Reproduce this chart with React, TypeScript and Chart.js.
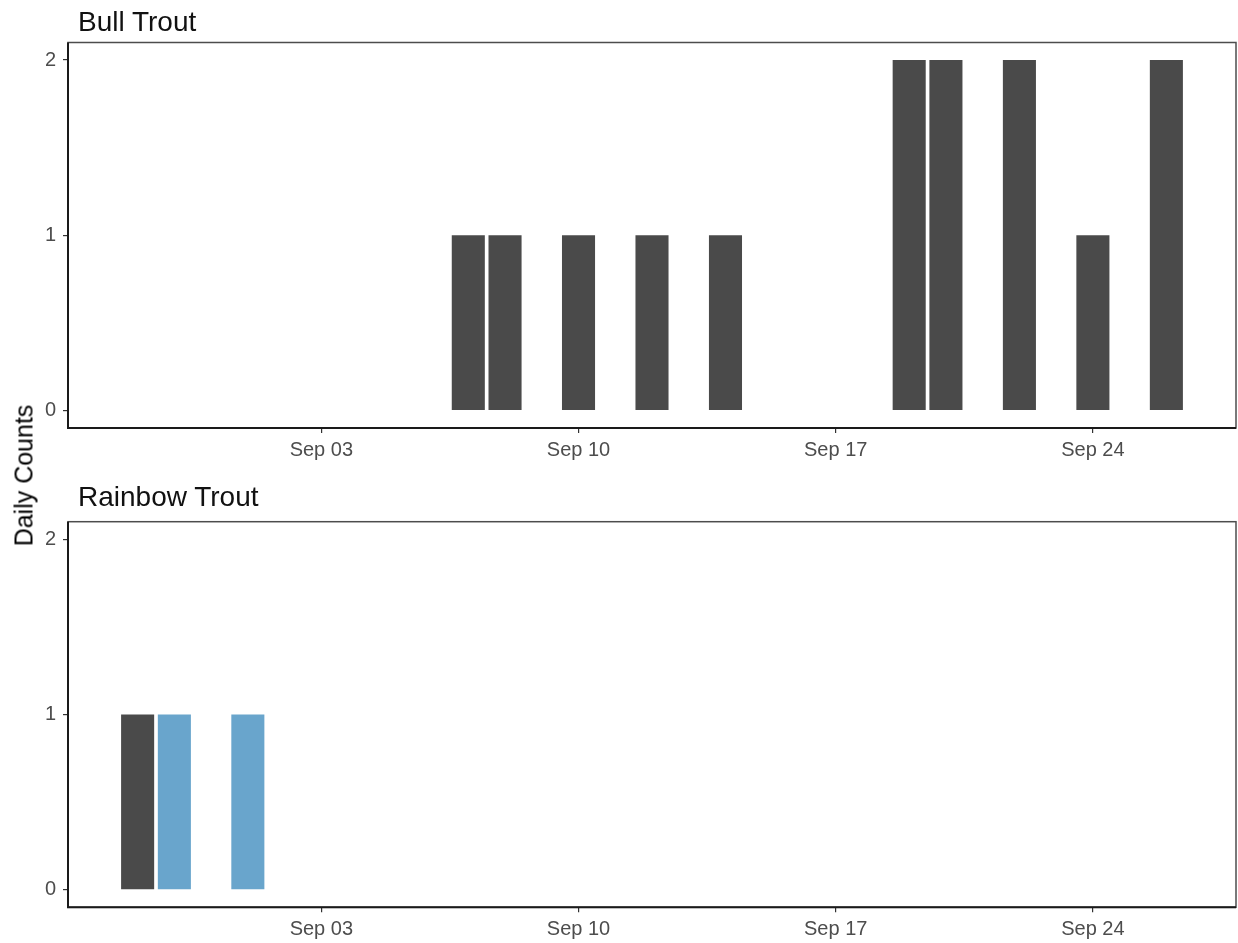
import React, { useEffect, useRef } from "react";
import { Chart, registerables } from "chart.js";

Chart.register(...registerables);

// ---- data ----
const bullDates = ["09-07", "09-08", "09-10", "09-12", "09-14", "09-19", "09-20", "09-22", "09-24", "09-26"];
const bullCounts = [1, 1, 1, 1, 1, 2, 2, 2, 1, 2];
const rainbowDarkDates = ["08-29"];
const rainbowDarkCounts = [1];
const rainbowBlueDates = ["08-30", "09-01"];
const rainbowBlueCounts = [1, 1];
const tickDates = ["09-03", "09-10", "09-17", "09-24"];
const tickLabels = ["Sep 03", "Sep 10", "Sep 17", "Sep 24"];
const yTicks = [0, 1, 2];
const panelTitles = ["Bull Trout", "Rainbow Trout"];
const yAxisTitle = "Daily Counts";

const DARK = "#4a4a4a";
const BLUE = "#69a5cc";
const FONT = "'Liberation Sans', Arial, sans-serif";

function dayNum(md: string): number {
  const [m, d] = md.split("-").map(Number);
  return (Date.UTC(2000, m - 1, d) - Date.UTC(2000, 8, 0)) / 86400000;
}

const allDays = [...bullDates, ...rainbowDarkDates, ...rainbowBlueDates].map(dayNum);
const lo = Math.min(...allDays) - 0.45;
const hi = Math.max(...allDays) + 0.45;
const padX = (hi - lo) * 0.05;
const X_MIN = lo - padX;
const X_MAX = hi + padX;
const Y_MIN = -0.1;
const Y_MAX = 2.1;

const toPoints = (dates: string[], counts: number[]) =>
  dates.map((d, i) => ({ x: dayNum(d), y: counts[i] }));

const framePlugin = {
  id: "frame",
  afterDraw(chart: any) {
    const { ctx, chartArea: a } = chart;
    ctx.save();
    ctx.strokeStyle = "#4d4d4d";
    ctx.lineWidth = 1.5;
    ctx.strokeRect(a.left, a.top, a.right - a.left, a.bottom - a.top);
    ctx.strokeStyle = "#1a1a1a";
    ctx.lineWidth = 2;
    ctx.beginPath();
    ctx.moveTo(a.left, a.top);
    ctx.lineTo(a.left, a.bottom);
    ctx.lineTo(a.right, a.bottom);
    ctx.stroke();
    ctx.restore();
  },
};

type PanelProps = {
  datasets: any[];
  top: number;
  height: number;
  padTop: number;
  xAxisHeight: number;
};

function Panel({ datasets, top, height, padTop, xAxisHeight }: PanelProps) {
  const ref = useRef<HTMLCanvasElement | null>(null);
  useEffect(() => {
    if (!ref.current) return;
    const chart = new Chart(ref.current, {
      type: "bar",
      data: { datasets },
      options: {
        responsive: false,
        animation: false,
        layout: { padding: { top: padTop, left: 30, right: 2, bottom: 0 } },
        plugins: { legend: { display: false }, tooltip: { enabled: false }, title: { display: false } },
        datasets: { bar: { grouped: false, barPercentage: 0.9, categoryPercentage: 1, borderWidth: 0 } },
        scales: {
          x: {
            type: "linear",
            min: X_MIN,
            max: X_MAX,
            offset: false,
            grid: { display: true, offset: false, drawOnChartArea: false, drawTicks: true, tickLength: 5, color: "#333333", lineWidth: 1.2 },
            border: { display: false },
            afterBuildTicks: (s: any) => {
              s.ticks = tickDates.map((d) => ({ value: dayNum(d) }));
            },
            afterFit: (s: any) => {
              s.height = xAxisHeight;
            },
            ticks: {
              autoSkip: false,
              maxRotation: 0,
              padding: 5,
              color: "#4d4d4d",
              font: { family: FONT, size: 20 },
              callback: (v: any) => {
                const i = tickDates.findIndex((d) => dayNum(d) === v);
                return i >= 0 ? tickLabels[i] : "";
              },
            },
          },
          y: {
            type: "linear",
            min: Y_MIN,
            max: Y_MAX,
            grid: { display: true, drawOnChartArea: false, drawTicks: true, tickLength: 5, color: "#333333", lineWidth: 1.2 },
            border: { display: false },
            afterBuildTicks: (s: any) => {
              s.ticks = yTicks.map((v) => ({ value: v }));
            },
            afterFit: (s: any) => {
              s.width = 38;
            },
            ticks: {
              padding: 7,
              color: "#4d4d4d",
              font: { family: FONT, size: 20 },
              callback: (v: any) => String(v),
            },
          },
        },
      },
      plugins: [framePlugin],
    } as any);
    return () => chart.destroy();
  }, []);
  return (
    <canvas
      ref={ref}
      width={1238}
      height={height}
      style={{ position: "absolute", left: 0, top, width: 1238, height }}
    />
  );
}

export default function App() {
  const bullSets = [
    { label: "Bull Trout", data: toPoints(bullDates, bullCounts), backgroundColor: DARK },
  ];
  const rainbowSets = [
    { label: "Rainbow Trout (dark)", data: toPoints(rainbowDarkDates, rainbowDarkCounts), backgroundColor: DARK },
    { label: "Rainbow Trout (blue)", data: toPoints(rainbowBlueDates, rainbowBlueCounts), backgroundColor: BLUE },
  ];
  const titleStyle: React.CSSProperties = {
    position: "absolute",
    left: 78,
    fontFamily: FONT,
    fontSize: 28,
    lineHeight: "28px",
    color: "#111",
    whiteSpace: "nowrap",
  };
  return (
    <div style={{ position: "absolute", left: 0, top: 0, width: 1238, height: 943, background: "#fff", overflow: "hidden" }}>
      <Panel datasets={bullSets} top={0} height={470} padTop={42.5} xAxisHeight={42} />
      <Panel datasets={rainbowSets} top={470} height={473} padTop={51.7} xAxisHeight={35.7} />
      <div style={{ ...titleStyle, top: 8 }}>{panelTitles[0]}</div>
      <div style={{ ...titleStyle, top: 483 }}>{panelTitles[1]}</div>
      <div
        style={{
          position: "absolute",
          left: -75.7,
          top: 463,
          width: 200,
          height: 25,
          textAlign: "center",
          fontFamily: FONT,
          fontSize: 25,
          lineHeight: "25px",
          color: "#000",
          whiteSpace: "nowrap",
          transform: "rotate(-90deg)",
        }}
      >
        {yAxisTitle}
      </div>
    </div>
  );
}
